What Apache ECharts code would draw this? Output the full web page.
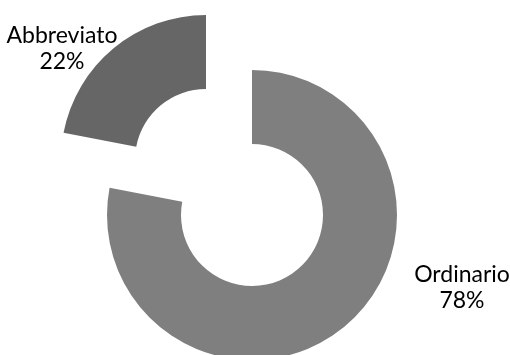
<!DOCTYPE html>
<html lang="it">
<head>
<meta charset="UTF-8">
<title>Abbreviato / Ordinario</title>
<script src="https://cdn.jsdelivr.net/npm/echarts@6/dist/echarts.min.js"></script>
<style>
    *{ margin: 0px; }
    #main{ width: 510px; height: 355px; background: #fff; }
</style>
</head>
<body>
<div id="main"></div>
<script>
    // dati
    var categories = ['Ordinario', 'Abbreviato'];
    var values = [78, 22];
    var colors = ['#7f7f7f', '#666666'];

    // fetta visibile in ogni serie; la seconda serie ha il centro spostato (fetta staccata)
    var centers = [[252, 215], [206, 160]];
    var labelPos = [[462, 288], [62, 49]];

    var chart = echarts.init(document.getElementById('main'));

    function makeSeries(k) {
        return {
            type: 'pie',
            center: centers[k],
            radius: [71, 145],
            startAngle: 90,
            clockwise: true,
            silent: true,
            emphasis: { disabled: true },
            data: categories.map(function (name, i) {
                return {
                    name: name,
                    value: values[i],
                    itemStyle: { color: i === k ? colors[i] : 'rgba(0,0,0,0)' },
                    label: { show: i === k }
                };
            }),
            label: {
                position: 'outside',
                formatter: '{b}\n{d}%',
                fontFamily: 'Lato',
                fontSize: 23,
                lineHeight: 26,
                color: '#000',
                align: 'center',
                overflow: 'none'
            },
            labelLine: { show: false },
            labelLayout: function (p) {
                return {
                    x: labelPos[k][0],
                    y: labelPos[k][1],
                    align: 'center',
                    verticalAlign: 'middle'
                };
            }
        };
    }

    chart.setOption({
        animation: false,
        series: [makeSeries(0), makeSeries(1)]
    });
</script>
</body>
</html>
